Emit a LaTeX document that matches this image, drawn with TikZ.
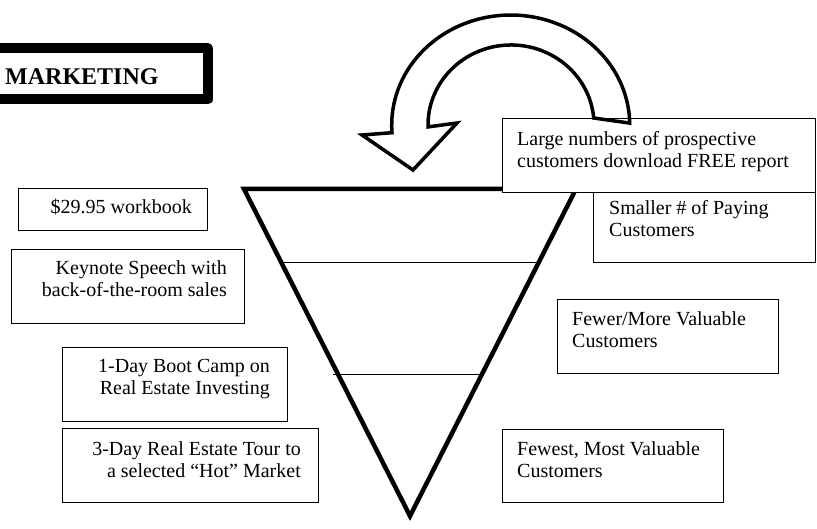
\documentclass[tikz,border=0pt]{standalone}
\usepackage{fontspec}
\setmainfont{Liberation Serif}
\begin{document}
\begin{tikzpicture}[x=1pt,y=-1pt,
  box/.style={draw=black, line width=1.3pt, fill=white, inner sep=0pt, anchor=north west},
  txt/.style={font=\fontsize{20}{22}\selectfont, inner sep=0pt},
  funnel/.style={line width=4.5pt, line join=miter},
  layer/.style={line width=1pt},
  uturn/.style={line width=3.5pt, line join=miter}]
\useasboundingbox (0,0) rectangle (817,529);
% MARKETING title box
\draw[line width=10pt, line join=round] (-20,48.5) rectangle (207.5,99.5);
\node[anchor=base west, inner sep=0pt, font=\fontsize{24}{26}\selectfont\bfseries] (title) at (5,85) {MARKETING};
% funnel
\draw[funnel] (244,189) -- (576,189) -- (410,516) -- cycle;
\draw[layer] (281,263) -- (539,263);
\draw[layer] (333,375) -- (481,375);
% boxes
\node[box, minimum width=189pt, minimum height=42pt] (bwork) at (18,188) {};
\node[box, minimum width=233pt, minimum height=74pt] (bkey) at (11,249) {};
\node[box, minimum width=225pt, minimum height=74pt] (bboot) at (62,347) {};
\node[box, minimum width=256pt, minimum height=74pt] (btour) at (62,428) {};
\node[box, minimum width=222pt, minimum height=70pt] (bpay) at (593,192) {};
\node[box, minimum width=313pt, minimum height=74pt] (bfree) at (502,118) {};
\node[box, minimum width=221pt, minimum height=74pt] (bfewer) at (557,299) {};
\node[box, minimum width=221pt, minimum height=73pt] (bfewest) at (502,429) {};
% texts (anchor base = baseline of last line)
\node[txt, anchor=base east] (twork) at (192,214) {\$29.95 workbook};
\node[txt, anchor=base east, align=right] (tkey) at (227,297) {Keynote Speech with\\back-of-the-room sales};
\node[txt, anchor=base east, align=right] (tboot) at (270,395) {1-Day Boot Camp on\\Real Estate Investing};
\node[txt, anchor=base east, align=right] (ttour) at (301,477) {3-Day Real Estate Tour to\\a selected “Hot” Market};
\node[txt, anchor=base west, align=left] (tpay) at (609,236.5) {Smaller \# of Paying\\Customers};
\node[txt, anchor=base west, align=left] (tfree) at (517,168) {Large numbers of prospective\\customers download FREE report};
\node[txt, anchor=base west, align=left] (tfewer) at (572,347.5) {Fewer/More Valuable\\Customers};
\node[txt, anchor=base west, align=left] (tfewest) at (517,477.5) {Fewest, Most Valuable\\Customers};
% U-turn arrow
\draw[uturn] (593.7,118)
  arc[start angle=-5, end angle=-181.4, x radius=83, y radius=80]
  -- (457,123) -- (413,170) -- (362,135) -- (392,132.7)
  arc[start angle=-184, end angle=-1, x radius=119, y radius=110]
  -- cycle;
\end{tikzpicture}
\end{document}
